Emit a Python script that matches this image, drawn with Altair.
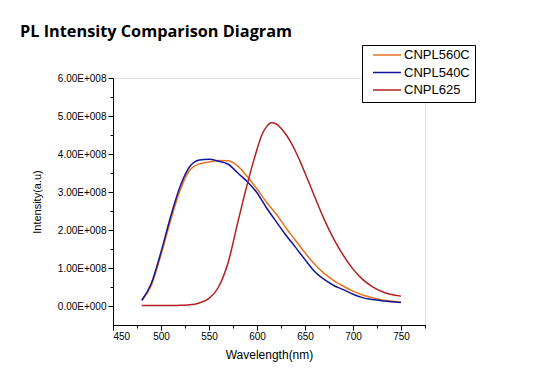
import altair as alt
import pandas as pd

wl = [480, 490, 500, 510, 520, 530, 540, 550, 560, 570, 580, 590, 600, 610, 620,
      630, 640, 650, 660, 670, 680, 690, 700, 710, 720, 730, 740, 750]
cnpl560c = [0.14, 0.55, 1.35, 2.25, 3.05, 3.58, 3.74, 3.79, 3.83, 3.82, 3.68, 3.40, 3.08, 2.73, 2.42,
            2.06, 1.73, 1.40, 1.10, 0.86, 0.67, 0.52, 0.39, 0.29, 0.22, 0.16, 0.13, 0.10]
cnpl540c = [0.15, 0.60, 1.42, 2.35, 3.15, 3.67, 3.84, 3.86, 3.81, 3.73, 3.50, 3.27, 2.98, 2.58, 2.22,
            1.87, 1.55, 1.22, 0.91, 0.70, 0.54, 0.43, 0.31, 0.22, 0.17, 0.14, 0.11, 0.09]
wl625 = [480, 490, 500, 510, 520, 530, 540, 550, 560, 570, 580, 590, 600, 605, 610, 615, 620,
         625, 630, 635, 640, 645, 650, 660, 670, 680, 690, 700, 710, 720, 730, 740, 750]
cnpl625 = [0.01, 0.01, 0.01, 0.01, 0.02, 0.03, 0.08, 0.20, 0.50, 1.15, 2.20, 3.22, 4.12, 4.50, 4.72, 4.82, 4.79,
           4.68, 4.52, 4.32, 4.08, 3.80, 3.50, 2.88, 2.28, 1.76, 1.33, 0.97, 0.70, 0.51, 0.38, 0.30, 0.26]

series = ["CNPL560C", "CNPL540C", "CNPL625"]
colors = ["#E8741E", "#141496", "#B41E1E"]

rows = []
for w, v in zip(wl, cnpl560c):
    rows.append({"series": "CNPL560C", "wl": w, "val": v * 1e8})
for w, v in zip(wl, cnpl540c):
    rows.append({"series": "CNPL540C", "wl": w, "val": v * 1e8})
for w, v in zip(wl625, cnpl625):
    rows.append({"series": "CNPL625", "wl": w, "val": v * 1e8})
df = pd.DataFrame(rows)

x_ticks = list(range(450, 776, 25))
y_ticks = [i * 0.5e8 for i in range(0, 13)]

x_axis = alt.Axis(
    values=x_ticks,
    labelExpr="datum.value % 50 == 0 ? datum.value : ''",
    tickSize={"condition": {"test": "datum.value % 50 != 0", "value": 3}, "value": 5},
    grid=False, domainColor="black", tickColor="black", labelColor="black",
    labelFont="Liberation Sans", labelFontSize=10, labelPadding=1,
    title="Wavelength(nm)", titleFont="Liberation Sans", titleFontSize=12,
    titleFontWeight="normal", titleColor="black", titlePadding=8,
)
y_axis = alt.Axis(
    values=y_ticks,
    labelExpr="datum.value % 100000000 != 0 ? '' : (datum.value == 0 ? '0.00E+000' : format(datum.value / 1e8, '.2f') + 'E+008')",
    tickSize={"condition": {"test": "datum.value % 100000000 != 0", "value": 3}, "value": 5},
    grid=False, domainColor="black", tickColor="black", labelColor="black",
    labelFont="Liberation Sans", labelFontSize=10, labelPadding=2,
    title="Intensity(a.u)", titleFont="Liberation Sans", titleFontSize=11,
    titleFontWeight="normal", titleColor="black", titlePadding=15,
)

chart = alt.Chart(df).mark_line(strokeWidth=1.5, interpolate="monotone").encode(
    x=alt.X("wl:Q", scale=alt.Scale(domain=[450, 775], nice=False, zero=False), axis=x_axis),
    y=alt.Y("val:Q", scale=alt.Scale(domain=[-0.5e8, 6e8], nice=False, zero=False), axis=y_axis),
    color=alt.Color(
        "series:N",
        scale=alt.Scale(domain=series, range=colors),
        legend=alt.Legend(
            title=None, orient="none", legendX=249, legendY=-33,
            strokeColor="black", fillColor="white", padding=5,
            symbolType="stroke", symbolSize=784, symbolStrokeWidth=1.5, symbolOffset=5,
            clipHeight=10, rowPadding=4.5,
            labelFont="Liberation Sans", labelFontSize=13, labelColor="black",
            labelOffset=2, labelExpr="datum.label + '    '",
        ),
    ),
    detail="series:N",
).properties(
    width=312,
    height=247,
    padding={"left": 105, "top": 70, "right": 125, "bottom": 45},
    autosize=alt.AutoSizeParams(type="none"),
    title=alt.TitleParams(
        "PL Intensity Comparison Diagram", anchor="start", frame="group", font="Open Sans",
        fontSize=16.3, fontWeight="bold", color="black", dx=-93, offset=4,
    ),
).configure_view(stroke=None).configure(background="white")

chart.save("out.html", embed_options={"renderer": "svg", "actions": False})
